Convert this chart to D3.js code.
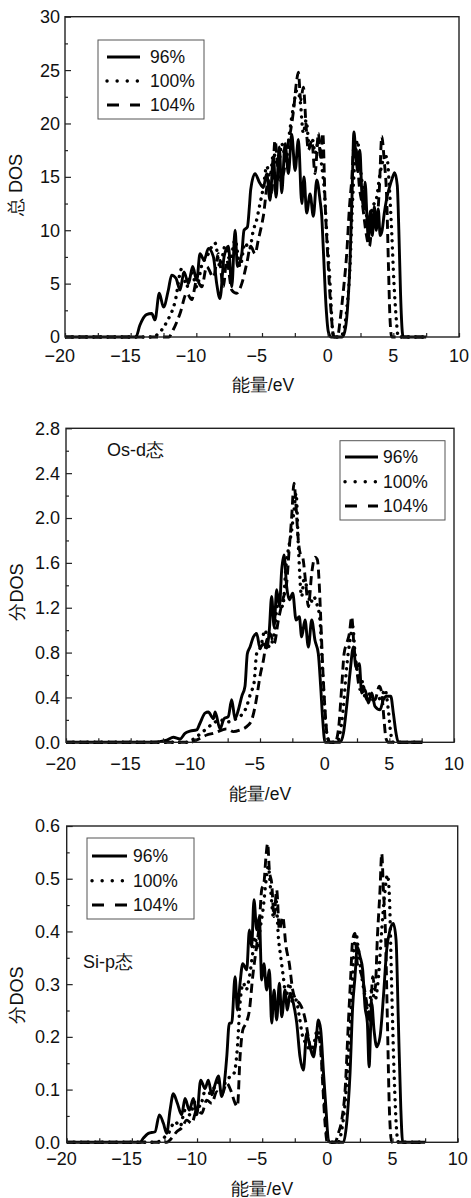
<!DOCTYPE html>
<html>
<head>
<meta charset="utf-8">
<script src="https://cdn.jsdelivr.net/npm/d3@7"></script>
<style>
  body { margin: 0; background: #fff; }
  svg text { font-family: "Liberation Sans", Arial, sans-serif; fill: #111; }
</style>
</head>
<body>
<svg id="chart" width="471" height="1198"></svg>
<script>
// ---- series labels and tick values ----
const seriesNames = ["96%", "100%", "104%"];
const xTickLabels = [-20, -15, -10, -5, 0, 5, 10];
const xMinorTicks = [-20, -17.5, -15, -12.5, -10, -7.5, -5, -2.5, 0, 2.5, 5, 7.5, 10];
const yTicksTotal = [0, 5, 10, 15, 20, 25, 30];
const yTicksOs = [0, 0.4, 0.8, 1.2, 1.6, 2.0, 2.4, 2.8];
const yTicksSi = [0, 0.1, 0.2, 0.3, 0.4, 0.5, 0.6];

// ---- total DOS, [energy eV, DOS] ----
const total96 = [[-20,0],[-14.6,0],[-14.3,1.1],[-13.8,2.1],[-13.4,2.2],[-13.15,1.6],[-12.82,4.1],[-12.5,2.8],[-12.13,4.4],[-11.88,5.8],[-11.55,5.5],[-11.24,4.4],[-10.94,6.1],[-10.6,5.0],[-10.28,6.6],[-9.97,5.3],[-9.72,7.8],[-9.41,7.2],[-9.08,8.3],[-8.7,7.5],[-8.45,5.0],[-8.2,3.6],[-7.89,7.5],[-7.56,8.5],[-7.3,4.7],[-7.05,10.0],[-6.87,6.6],[-6.54,7.8],[-6.37,10.0],[-6.11,10.3],[-5.96,12.2],[-5.86,13.8],[-5.53,15.3],[-5.2,14.5],[-4.9,14.0],[-4.64,15.3],[-4.39,12.8],[-4.13,16.9],[-3.93,13.1],[-3.68,17.8],[-3.5,13.5],[-3.24,18.1],[-2.99,15.3],[-2.74,19.0],[-2.48,15.6],[-2.23,18.5],[-1.97,12.5],[-1.8,15.0],[-1.6,11.6],[-1.34,13.4],[-1.09,11.3],[-0.83,14.7],[-0.58,12.8],[-0.45,11.3],[-0.33,8.2],[-0.12,2.8],[0.05,0.5],[0.25,0],[1.1,0],[1.3,0.5],[1.5,2.5],[1.7,7.0],[1.85,13.0],[2.0,19.2],[2.15,17.0],[2.3,15.5],[2.45,17.5],[2.6,13.5],[2.75,12.0],[2.85,14.5],[3.0,11.0],[3.1,9.0],[3.25,11.8],[3.4,9.5],[3.55,12.2],[3.7,10.0],[3.85,12.0],[4.0,9.5],[4.15,10.0],[4.3,11.5],[4.5,13.0],[4.7,14.0],[4.9,14.8],[5.1,15.4],[5.3,14.2],[5.42,10.0],[5.55,4.0],[5.68,0.5],[5.75,0],[7.5,0]];
const total100 = [[-20,0],[-13.4,0],[-12.9,0.3],[-12.26,1.4],[-11.62,3.3],[-11.11,6.4],[-10.73,4.7],[-10.35,6.0],[-9.97,4.7],[-9.59,6.7],[-9.21,7.5],[-8.58,8.8],[-8.2,6.6],[-7.81,8.5],[-7.43,7.2],[-7.05,9.1],[-6.67,6.6],[-6.29,8.8],[-5.96,8.2],[-5.66,10.0],[-5.4,11.0],[-5.2,12.2],[-4.9,14.0],[-4.64,16.0],[-4.39,15.0],[-4.13,17.2],[-3.75,16.0],[-3.5,18.1],[-3.17,16.6],[-2.91,19.1],[-2.6,21.6],[-2.35,23.1],[-2.1,22.2],[-1.85,19.1],[-1.64,20.3],[-1.39,17.8],[-1.14,18.4],[-0.96,17.2],[-0.7,18.4],[-0.45,16.0],[-0.27,14.0],[-0.07,9.7],[0.18,5.0],[0.35,1.0],[0.45,0],[0.95,0],[1.2,0.5],[1.45,2.5],[1.7,6.6],[1.9,12.8],[2.1,16.9],[2.27,18.4],[2.47,16.0],[2.67,14.0],[2.93,11.6],[3.18,10.3],[3.43,12.2],[3.69,12.8],[3.99,15.3],[4.24,16.6],[4.5,16.9],[4.7,14.0],[4.88,9.7],[5.05,5.0],[5.21,1.9],[5.38,0],[7.5,0]];
const total104 = [[-20,0],[-12.1,0],[-11.75,0.7],[-11.24,2.2],[-10.73,4.1],[-10.35,3.5],[-9.97,5.3],[-9.59,4.7],[-9.21,6.6],[-8.7,5.6],[-8.32,7.8],[-7.94,4.7],[-7.69,7.2],[-7.3,4.4],[-6.93,4.1],[-6.54,5.0],[-6.16,6.9],[-5.86,8.5],[-5.53,7.8],[-5.28,9.1],[-4.9,11.3],[-4.51,14.7],[-4.26,13.5],[-4.01,18.4],[-3.68,14.7],[-3.37,15.3],[-3.07,17.8],[-2.81,19.4],[-2.6,21.2],[-2.35,24.1],[-2.23,24.8],[-2.05,22.2],[-1.85,23.4],[-1.64,19.7],[-1.47,17.5],[-1.21,18.4],[-0.96,15.3],[-0.7,19.1],[-0.53,16.6],[-0.37,19.1],[-0.2,12.8],[0.05,6.6],[0.25,2.5],[0.4,0.4],[0.5,0],[0.75,0],[0.95,1.6],[1.2,4.4],[1.45,7.8],[1.66,12.2],[1.83,14.7],[2.01,18.1],[2.21,17.2],[2.42,14.0],[2.67,12.2],[2.93,9.7],[3.18,8.5],[3.43,11.0],[3.69,10.3],[3.94,14.0],[4.12,18.8],[4.3,16.6],[4.5,12.8],[4.63,6.6],[4.75,1.6],[4.88,0],[7.5,0]];

// ---- Os-d partial DOS ----
const os96 = [[-20,0],[-13.5,0],[-12.21,0.02],[-11.7,0.045],[-11.18,0.03],[-10.8,0.08],[-10.41,0.1],[-9.9,0.11],[-9.64,0.17],[-9.25,0.26],[-9.0,0.27],[-8.6,0.21],[-8.47,0.27],[-8.09,0.12],[-7.78,0.21],[-7.45,0.23],[-7.19,0.38],[-6.93,0.21],[-6.67,0.29],[-6.41,0.41],[-6.16,0.5],[-5.98,0.79],[-5.77,0.85],[-5.51,0.94],[-5.26,0.97],[-5.0,0.84],[-4.74,0.88],[-4.48,0.84],[-4.28,1.0],[-4.1,1.3],[-3.91,1.03],[-3.71,1.36],[-3.5,1.21],[-3.32,1.54],[-3.14,1.67],[-2.94,1.39],[-2.73,1.27],[-2.47,1.33],[-2.21,1.09],[-1.96,1.12],[-1.78,0.94],[-1.52,1.09],[-1.26,0.85],[-1.0,1.09],[-0.75,0.91],[-0.49,0.79],[-0.31,0.5],[-0.15,0.2],[0.03,0],[1.19,0],[1.45,0.08],[1.7,0.32],[1.96,0.62],[2.22,0.85],[2.42,0.67],[2.68,0.7],[2.86,0.44],[3.12,0.47],[3.38,0.35],[3.64,0.44],[3.89,0.32],[4.28,0.29],[4.54,0.38],[4.8,0.41],[5.11,0.41],[5.31,0.26],[5.52,0.08],[5.7,0],[7.5,0]];
const os100 = [[-20,0],[-10.67,0],[-9.9,0.05],[-9.25,0.11],[-8.6,0.17],[-8.09,0.2],[-7.57,0.18],[-7.06,0.2],[-6.54,0.23],[-6.03,0.32],[-5.72,0.44],[-5.46,0.53],[-5.26,0.79],[-4.95,0.85],[-4.61,1.0],[-4.28,0.85],[-3.91,0.97],[-3.58,1.27],[-3.24,1.21],[-2.99,1.57],[-2.73,1.77],[-2.55,1.89],[-2.37,2.07],[-2.21,2.22],[-2.03,1.74],[-1.78,1.3],[-1.6,1.45],[-1.39,1.39],[-1.08,1.24],[-0.87,1.3],[-0.62,1.24],[-0.36,1.09],[-0.2,0.73],[-0.05,0.38],[0.16,0.08],[0.42,0],[0.93,0],[1.19,0.08],[1.45,0.32],[1.7,0.67],[1.96,0.91],[2.17,1.03],[2.35,0.79],[2.61,0.59],[2.86,0.56],[3.12,0.41],[3.38,0.44],[3.64,0.38],[4.02,0.38],[4.41,0.41],[4.66,0.47],[4.92,0.29],[5.11,0.08],[5.31,0],[7.5,0]];
const os104 = [[-20,0],[-10.41,0],[-9.64,0.035],[-9.12,0.065],[-8.6,0.08],[-7.57,0.12],[-7.06,0.095],[-6.54,0.11],[-6.03,0.14],[-5.64,0.2],[-5.38,0.32],[-5.2,0.44],[-5.0,0.59],[-4.74,0.73],[-4.48,0.91],[-4.23,0.97],[-3.91,0.88],[-3.58,1.09],[-3.24,1.27],[-2.94,1.42],[-2.73,1.74],[-2.55,2.01],[-2.37,2.31],[-2.21,2.1],[-2.08,1.86],[-1.9,1.69],[-1.7,1.65],[-1.44,1.39],[-1.26,1.21],[-1.0,1.51],[-0.75,1.65],[-0.57,1.63],[-0.41,1.39],[-0.31,1.12],[-0.15,0.67],[0.03,0.29],[0.21,0.05],[0.42,0],[0.8,0],[1.06,0.11],[1.32,0.5],[1.5,0.79],[1.7,0.88],[1.91,0.97],[2.09,1.12],[2.27,0.85],[2.48,0.65],[2.73,0.47],[2.99,0.5],[3.25,0.38],[3.51,0.41],[3.89,0.38],[4.23,0.5],[4.41,0.44],[4.59,0.2],[4.74,0.035],[4.92,0],[7.5,0]];

// ---- Si-p partial DOS ----
const si96 = [[-20,0],[-14.37,0],[-14.12,0.008],[-13.73,0.017],[-13.22,0.02],[-12.89,0.052],[-12.58,0.036],[-12.33,0.017],[-12.07,0.061],[-11.82,0.092],[-11.51,0.074],[-11.18,0.052],[-10.92,0.083],[-10.59,0.061],[-10.28,0.083],[-10.02,0.052],[-9.72,0.118],[-9.39,0.102],[-9.13,0.118],[-8.87,0.09],[-8.62,0.109],[-8.36,0.126],[-8.11,0.087],[-7.85,0.125],[-7.72,0.162],[-7.52,0.226],[-7.34,0.226],[-7.08,0.314],[-6.9,0.251],[-6.7,0.302],[-6.49,0.339],[-6.19,0.327],[-5.98,0.403],[-5.81,0.371],[-5.63,0.46],[-5.42,0.403],[-5.22,0.428],[-5.04,0.308],[-4.87,0.339],[-4.66,0.289],[-4.45,0.327],[-4.27,0.226],[-4.09,0.289],[-3.89,0.232],[-3.68,0.302],[-3.5,0.238],[-3.25,0.289],[-3.07,0.251],[-2.86,0.283],[-2.61,0.264],[-2.35,0.226],[-2.1,0.162],[-1.84,0.137],[-1.59,0.207],[-1.33,0.181],[-1.07,0.162],[-0.87,0.194],[-0.69,0.232],[-0.51,0.213],[-0.31,0.137],[-0.1,0.061],[0.08,0.004],[0.2,0],[1.23,0],[1.48,0.036],[1.74,0.131],[1.94,0.257],[2.12,0.314],[2.3,0.371],[2.51,0.352],[2.71,0.327],[2.89,0.257],[3.07,0.226],[3.2,0.143],[3.4,0.264],[3.58,0.213],[3.79,0.181],[4.04,0.2],[4.3,0.276],[4.55,0.365],[4.81,0.403],[5.06,0.415],[5.27,0.384],[5.45,0.226],[5.63,0.068],[5.78,0],[7.5,0]];
const si100 = [[-20,0],[-13.1,0],[-12.58,0.008],[-12.2,0.017],[-11.69,0.039],[-11.3,0.03],[-10.92,0.061],[-10.54,0.052],[-10.16,0.077],[-9.77,0.068],[-9.39,0.096],[-9.0,0.093],[-8.62,0.106],[-8.24,0.115],[-7.85,0.112],[-7.47,0.125],[-7.16,0.131],[-6.9,0.181],[-6.7,0.264],[-6.44,0.302],[-6.24,0.289],[-5.98,0.314],[-5.73,0.358],[-5.55,0.39],[-5.37,0.365],[-5.17,0.403],[-4.91,0.447],[-4.73,0.491],[-4.53,0.523],[-4.35,0.479],[-4.14,0.428],[-3.94,0.46],[-3.76,0.39],[-3.58,0.352],[-3.38,0.314],[-3.17,0.276],[-2.92,0.302],[-2.66,0.264],[-2.41,0.27],[-2.15,0.238],[-1.89,0.2],[-1.64,0.188],[-1.33,0.175],[-1.02,0.188],[-0.77,0.213],[-0.56,0.194],[-0.36,0.131],[-0.15,0.049],[0.08,0],[0.84,0],[1.1,0.023],[1.36,0.074],[1.61,0.162],[1.87,0.276],[2.05,0.371],[2.2,0.396],[2.38,0.365],[2.64,0.314],[2.89,0.276],[3.15,0.245],[3.4,0.289],[3.66,0.27],[3.92,0.314],[4.17,0.403],[4.43,0.479],[4.61,0.507],[4.76,0.466],[4.94,0.289],[5.12,0.131],[5.33,0.017],[5.45,0],[7.5,0]];
const si104 = [[-20,0],[-12.33,0],[-11.94,0.008],[-11.56,0.02],[-11.18,0.027],[-10.79,0.042],[-10.41,0.036],[-10.02,0.061],[-9.64,0.055],[-9.26,0.08],[-8.87,0.074],[-8.49,0.096],[-8.11,0.09],[-7.72,0.112],[-7.42,0.099],[-7.08,0.074],[-6.9,0.068],[-6.7,0.162],[-6.49,0.213],[-6.24,0.226],[-5.98,0.251],[-5.73,0.314],[-5.47,0.365],[-5.22,0.415],[-5.04,0.479],[-4.87,0.491],[-4.71,0.542],[-4.58,0.567],[-4.45,0.516],[-4.27,0.491],[-4.09,0.428],[-3.89,0.479],[-3.68,0.403],[-3.43,0.428],[-3.17,0.371],[-2.92,0.339],[-2.66,0.289],[-2.41,0.27],[-2.15,0.264],[-1.89,0.251],[-1.64,0.226],[-1.38,0.188],[-1.13,0.169],[-0.87,0.188],[-0.66,0.2],[-0.51,0.175],[-0.36,0.112],[-0.18,0.036],[0.0,0],[0.59,0],[0.84,0.017],[1.1,0.042],[1.36,0.099],[1.61,0.226],[1.79,0.314],[1.94,0.384],[2.12,0.396],[2.3,0.339],[2.51,0.327],[2.76,0.302],[3.02,0.264],[3.27,0.226],[3.48,0.314],[3.66,0.289],[3.84,0.39],[4.04,0.479],[4.17,0.548],[4.3,0.479],[4.45,0.403],[4.61,0.226],[4.76,0.061],[4.94,0],[7.5,0]];

// ---- line styles for the three lattice ratios ----
const lineStyles = [
  { width: 2.9, dash: null, cap: "butt", legendDash: null },
  { width: 3.4, dash: "0.1,7", cap: "round", legendDash: "0.1,10" },
  { width: 2.9, dash: "9,5", cap: "butt", legendDash: "12,11" }
];

const panels = [
  {
    box: { l: 65, r: 459, t: 16.7, b: 337 }, yMax: 30, yTicks: yTicksTotal, yMinor: 2.5,
    fmt: d3.format("d"), series: [total96, total100, total104], yLabelX: 60,
    yTitle: "总 DOS", yTitlePos: [16, 185], xTickBase: 362, xTitlePos: [263, 391],
    legend: { x: 98, y: 40, w: 106, h: 79, rows: [57, 81, 105], lx0: 107, lx1: 140, tx: 150 },
    note: null
  },
  {
    box: { l: 66, r: 454, t: 428.3, b: 742.3 }, yMax: 2.8, yTicks: yTicksOs, yMinor: 0.2,
    fmt: d3.format(".1f"), series: [os96, os100, os104], yLabelX: 60,
    yTitle: "分DOS", yTitlePos: [17, 592], xTickBase: 770, xTitlePos: [260, 800],
    legend: { x: 340, y: 440.7, w: 105, h: 79.3, rows: [457, 481.7, 506], lx0: 345, lx1: 378, tx: 383 },
    note: { text: "Os-d态", x: 107, y: 456 }
  },
  {
    box: { l: 66.7, r: 457.7, t: 826, b: 1142.3 }, yMax: 0.6, yTicks: yTicksSi, yMinor: 0.05,
    fmt: d3.format(".1f"), series: [si96, si100, si104], yLabelX: 60,
    yTitle: "分DOS", yTitlePos: [17, 995], xTickBase: 1165, xTitlePos: [262, 1195],
    legend: { x: 87, y: 838, w: 107, h: 81, rows: [856, 880.7, 905], lx0: 92, lx1: 127, tx: 133 },
    note: { text: "Si-p态", x: 83, y: 968 }
  }
];

const svg = d3.select("#chart");

panels.forEach((p, pi) => {
  const b = p.box;
  const x = d3.scaleLinear().domain([-20, 10]).range([b.l, b.r]);
  const y = d3.scaleLinear().domain([0, p.yMax]).range([b.b, b.t]);
  const g = svg.append("g");

  // clip the curves to the plot frame
  const clipId = "clip" + pi;
  g.append("clipPath").attr("id", clipId).append("rect")
    .attr("x", b.l).attr("y", b.t - 2).attr("width", b.r - b.l).attr("height", b.b - b.t + 4);

  const line = d3.line().x(d => x(d[0])).y(d => y(d[1])).curve(d3.curveMonotoneX);

  const curves = g.append("g").attr("clip-path", `url(#${clipId})`);
  // draw 104%, 100% then 96% on top
  [2, 1, 0].forEach(si => {
    const st = lineStyles[si];
    curves.append("path")
      .datum(p.series[si])
      .attr("d", line)
      .attr("fill", "none")
      .attr("stroke", "#000")
      .attr("stroke-width", st.width)
      .attr("stroke-linecap", st.cap)
      .attr("stroke-linejoin", "round")
      .attr("stroke-dasharray", st.dash);
  });

  // x-axis ticks (inward)
  g.append("g")
    .attr("transform", `translate(0,${b.b})`)
    .call(d3.axisBottom(x).tickValues(xMinorTicks).tickSize(-4).tickFormat(""))
    .call(a => a.select(".domain").remove())
    .call(a => a.selectAll("line").attr("stroke", "#222").attr("stroke-width", 1.2));

  // y-axis ticks (inward): major and minor
  const minorVals = d3.range(0, p.yMax + p.yMinor / 2, p.yMinor)
    .filter(v => !p.yTicks.some(t => Math.abs(t - v) < 1e-6));
  g.append("g")
    .attr("transform", `translate(${b.l},0)`)
    .call(d3.axisLeft(y).tickValues(p.yTicks).tickSize(-6).tickFormat(""))
    .call(a => a.select(".domain").remove())
    .call(a => a.selectAll("line").attr("stroke", "#222").attr("stroke-width", 1.2));
  g.append("g")
    .attr("transform", `translate(${b.l},0)`)
    .call(d3.axisLeft(y).tickValues(minorVals).tickSize(-3).tickFormat(""))
    .call(a => a.select(".domain").remove())
    .call(a => a.selectAll("line").attr("stroke", "#222").attr("stroke-width", 1.2));

  // frame
  g.append("rect")
    .attr("x", b.l).attr("y", b.t).attr("width", b.r - b.l).attr("height", b.b - b.t)
    .attr("fill", "none").attr("stroke", "#222").attr("stroke-width", 1.4);

  // x tick labels: digits centred on the tick, minus sign hanging left
  g.append("g").selectAll("text").data(xTickLabels).join("text")
    .attr("x", d => x(d))
    .attr("y", p.xTickBase)
    .attr("dx", d => d < 0 ? "-0.29em" : null)
    .attr("text-anchor", "middle")
    .attr("font-size", 18)
    .text(d => d < 0 ? "\u2212" + Math.abs(d) : String(d));

  // y tick labels
  g.append("g").selectAll("text").data(p.yTicks).join("text")
    .attr("x", p.yLabelX)
    .attr("y", d => y(d))
    .attr("dy", "0.36em")
    .attr("text-anchor", "end")
    .attr("font-size", 18)
    .text(d => p.fmt(d));

  // axis titles
  g.append("text")
    .attr("x", p.xTitlePos[0]).attr("y", p.xTitlePos[1])
    .attr("text-anchor", "middle").attr("font-size", 17.5)
    .text("能量/eV");
  g.append("text")
    .attr("transform", `translate(${p.yTitlePos[0]},${p.yTitlePos[1]}) rotate(-90)`)
    .attr("dy", "0.36em")
    .attr("text-anchor", "middle").attr("font-size", 18)
    .text(p.yTitle);

  // panel note
  if (p.note) {
    g.append("text")
      .attr("x", p.note.x).attr("y", p.note.y)
      .attr("font-size", 18)
      .text(p.note.text);
  }

  // legend
  const L = p.legend;
  const lg = g.append("g");
  lg.append("rect")
    .attr("x", L.x).attr("y", L.y).attr("width", L.w).attr("height", L.h)
    .attr("fill", "#fff").attr("stroke", "#555").attr("stroke-width", 1);
  seriesNames.forEach((name, si) => {
    const st = lineStyles[si];
    lg.append("line")
      .attr("x1", L.lx0).attr("x2", L.lx1).attr("y1", L.rows[si]).attr("y2", L.rows[si])
      .attr("stroke", "#000").attr("stroke-width", st.width)
      .attr("stroke-linecap", st.cap)
      .attr("stroke-dasharray", st.legendDash);
    lg.append("text")
      .attr("x", L.tx).attr("y", L.rows[si]).attr("dy", "0.35em")
      .attr("font-size", 17.5)
      .text(name);
  });
});
</script>
</body>
</html>
